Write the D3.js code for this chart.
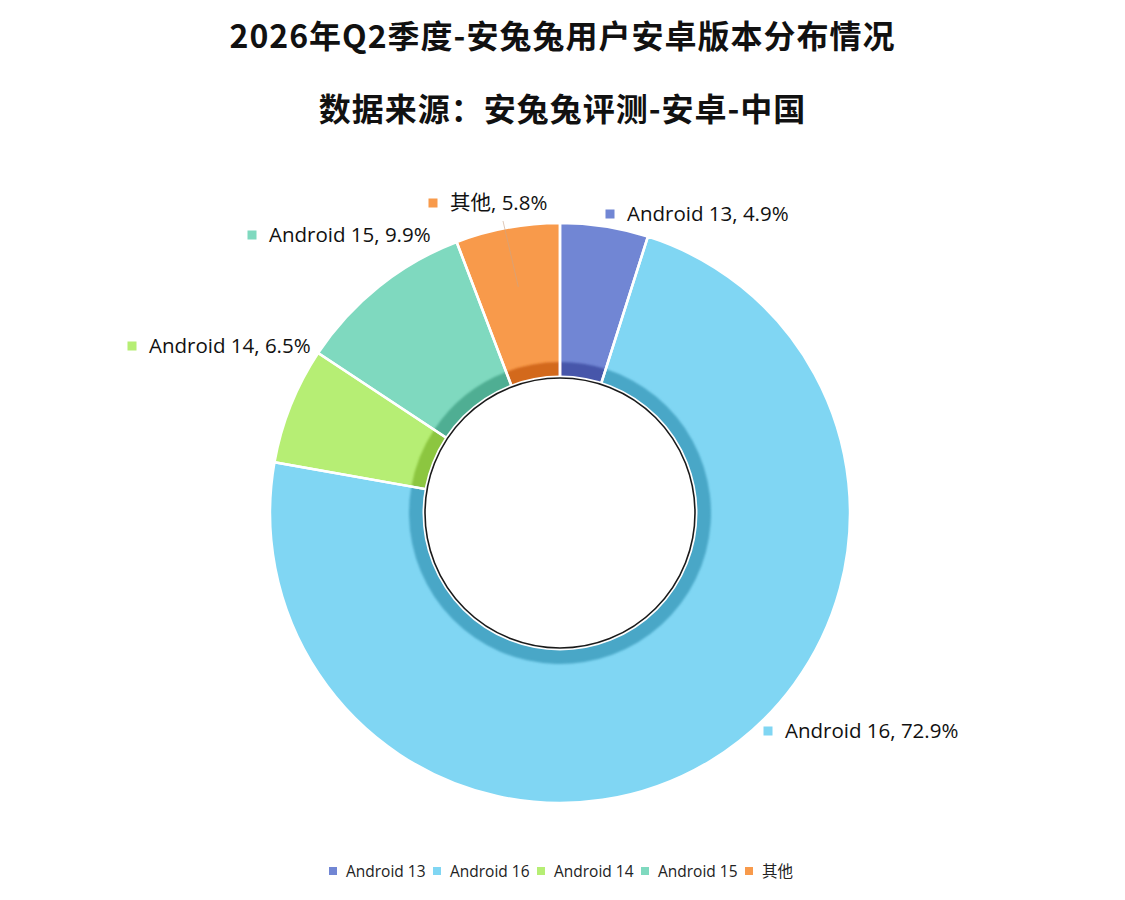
<!DOCTYPE html>
<html>
<head>
<meta charset="utf-8">
<script src="https://cdn.jsdelivr.net/npm/d3@7/dist/d3.min.js"></script>
<style>
  body { margin: 0; background: #fff; }
  svg { display: block; }
</style>
</head>
<body>
<script>
var categories = ["Android 13", "Android 16", "Android 14", "Android 15", "其他"];
var shares = [4.9, 72.9, 6.5, 9.9, 5.8];
var titleLines = ["2026年Q2季度-安兔兔用户安卓版本分布情况", "数据来源：安兔兔评测-安卓-中国"];

var COLORS = ["#7186d4", "#80d6f3", "#b6ee74", "#7fd9bf", "#f89a4b"];
var DARK = ["#4656aa", "#4aa7c7", "#8cc63f", "#4fae93", "#d3691f"];

var WIDTH = 1125, HEIGHT = 900;
var CX = 560, CY = 513;
var R_OUT = 290, R_BAND = 151, R_IN = 135;

// label anchor (legend square centre) relative to pie centre
var LABEL_OFF = [[50, -299], [208, 218], [-428, -167], [-308, -278], [-127, -310]];

var translate = function (x, y) { return "translate(" + x + "," + y + ")"; };

var svg = d3.select("body").append("svg")
    .attr("width", WIDTH)
    .attr("height", HEIGHT);

svg.append("rect").attr("width", WIDTH).attr("height", HEIGHT).attr("fill", "#fff");

var titleFont = "'Noto Sans CJK SC', 'Noto Sans', sans-serif";
svg.selectAll("text.title")
    .data(titleLines)
    .enter().append("text")
    .attr("class", "title")
    .attr("x", WIDTH / 2 + 0)
    .attr("y", function (d, i) { return 48 + i * 73; })
    .attr("text-anchor", "middle")
    .attr("font-family", titleFont)
    .attr("font-weight", "bold")
    .attr("font-size", 32)
    .attr("letter-spacing", 1)
    .attr("fill", "#111")
    .text(function (d) { return d; });

var pie = d3.pie().sort(null).value(function (d) { return d; });
var arcs = pie(shares);

var outerArc = d3.arc().innerRadius(R_IN).outerRadius(R_OUT);
var bandArc = d3.arc().innerRadius(R_IN).outerRadius(R_BAND);

var defs = svg.append("defs");
defs.append("filter").attr("id", "soft")
    .attr("x", "-20%").attr("y", "-20%").attr("width", "140%").attr("height", "140%")
  .append("feGaussianBlur").attr("stdDeviation", 1.2);

var g = svg.append("g").attr("transform", translate(CX, CY));

g.selectAll("path.slice")
    .data(arcs)
    .enter().append("path")
    .attr("class", "slice")
    .attr("d", outerArc)
    .attr("fill", function (d, i) { return COLORS[i]; });

g.append("g").attr("filter", "url(#soft)")
  .selectAll("path.band")
    .data(arcs)
    .enter().append("path")
    .attr("class", "band")
    .attr("d", bandArc)
    .attr("fill", function (d, i) { return DARK[i]; });

// slice separators
g.selectAll("path.sep")
    .data(arcs)
    .enter().append("path")
    .attr("class", "sep")
    .attr("d", outerArc)
    .attr("fill", "none")
    .attr("stroke", "#fff")
    .attr("stroke-width", 2.5)
    .attr("stroke-linejoin", "round");

// inner hole
g.append("circle").attr("r", R_IN + 1.5).attr("fill", "none")
    .attr("stroke", "#fff").attr("stroke-width", 2);
g.append("circle").attr("r", R_IN).attr("fill", "#fff")
    .attr("stroke", "#1a1a1a").attr("stroke-width", 1.6);

// leader line for the small "其他" slice
var leaderArc = d3.arc().innerRadius(R_OUT - 60).outerRadius(R_OUT - 60);
var other = arcs[4];
var lp = leaderArc.centroid(other);
g.append("line")
    .attr("x1", LABEL_OFF[4][0] + 70).attr("y1", LABEL_OFF[4][1] + 18)
    .attr("x2", lp[0]).attr("y2", lp[1])
    .attr("stroke", "#c9a58a").attr("stroke-width", 1).attr("opacity", 0.6);

var labelFont = "'Open Sans', 'Noto Sans CJK SC', sans-serif";
var labels = g.selectAll("g.lbl")
    .data(arcs)
    .enter().append("g")
    .attr("class", "lbl")
    .attr("transform", function (d, i) { return translate(LABEL_OFF[i][0], LABEL_OFF[i][1]); });

labels.append("rect")
    .attr("x", -4.5).attr("y", -4.5).attr("width", 9).attr("height", 9)
    .attr("fill", function (d, i) { return COLORS[i]; });

labels.append("text")
    .attr("x", 17)
    .attr("y", 7)
    .attr("font-family", labelFont)
    .attr("font-size", 20.5)
    .attr("fill", "#111")
    .text(function (d, i) { return categories[i] + ", " + d3.format(".1f")(shares[i]) + "%"; });

// legend
var legend = svg.append("g").attr("transform", translate(0, 871));
var legendX = [333, 437, 541, 645, 749];
var items = legend.selectAll("g.item")
    .data(categories)
    .enter().append("g")
    .attr("class", "item")
    .attr("transform", function (d, i) { return translate(legendX[i], 0); });

items.append("rect")
    .attr("x", -4).attr("y", -4).attr("width", 8).attr("height", 8)
    .attr("fill", function (d, i) { return COLORS[i]; });

items.append("text")
    .attr("x", 13).attr("y", 5.5)
    .attr("font-family", labelFont)
    .attr("font-size", 15.5)
    .attr("fill", "#222")
    .text(function (d) { return d; });
</script>
</body>
</html>
